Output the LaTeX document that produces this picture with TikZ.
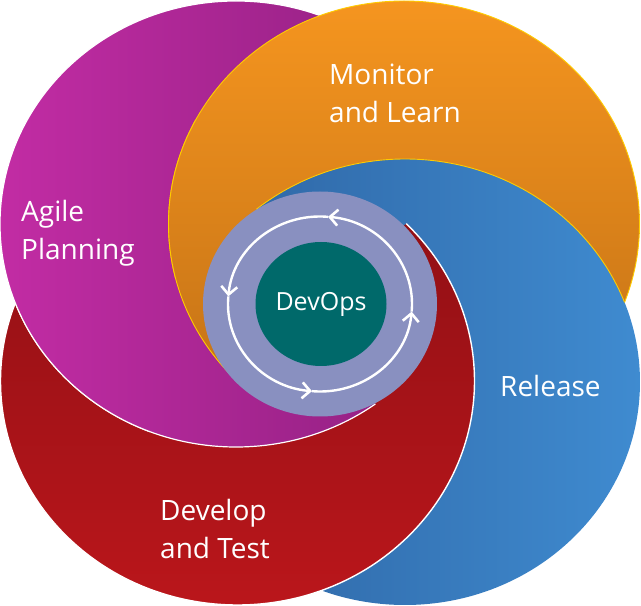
\documentclass[tikz,border=0pt]{standalone}
\usepackage{fontspec}
\setmainfont{Open Sans}
\usetikzlibrary{arrows.meta,shapes.geometric}
\definecolor{magL}{HTML}{C22CA4}
\definecolor{magD}{HTML}{8C1F7E}
\definecolor{orL}{HTML}{F5951F}
\definecolor{orD}{HTML}{BE6E15}
\definecolor{blL}{HTML}{3F8BD0}
\definecolor{blD}{HTML}{2D62A0}
\definecolor{rdL}{HTML}{BA161B}
\definecolor{rdD}{HTML}{8C0F14}
\definecolor{ringc}{HTML}{8990C0}
\definecolor{tealc}{HTML}{00696A}
\definecolor{goldc}{HTML}{FFCC00}
\tikzset{
  magsty/.style={left color=magL, right color=magD, draw=white, line width=1.2pt},
  orsty/.style={top color=orL, bottom color=orD, draw=goldc, line width=0.9pt},
  blsty/.style={left color=blD, right color=blL},
  rdsty/.style={top color=rdD, bottom color=rdL, draw=white, line width=1.4pt},
  lbl/.style={text=white, font=\fontsize{28}{34}\selectfont, inner sep=0pt},
  cyc/.style={white, line width=2.4pt, -{Straight Barb[length=8pt, width=16pt, line width=2.6pt]}}
}
\newcommand\petalR{\shadedraw[rdsty] (237.5,225) ellipse [x radius=237, y radius=224];}
\newcommand\petalM{\shadedraw[magsty] (236,382) ellipse [x radius=236, y radius=223];}
\newcommand\petalO{\shadedraw[orsty] (404,382) ellipse [x radius=235.5, y radius=223];}
\newcommand\petalB{\shade[blsty] (405,224) ellipse [x radius=235, y radius=223];}
\begin{document}
\begin{tikzpicture}[x=1pt,y=1pt]
\useasboundingbox (0,0) rectangle (641,606);
\coordinate (C) at (320,302);
% base stacking: red < magenta < orange < blue
\petalR
\petalM
\petalO
\petalB
\begin{scope}
  \clip (404,382) ellipse [x radius=235.5, y radius=223];
  \draw[goldc, line width=0.9pt] (405,224) ellipse [x radius=235, y radius=223];
\end{scope}
% red over blue and orange in the lower and right sectors
\begin{scope}
  \clip (C) -- +(217:1500) -- +(270:1500) -- +(330:1500) -- +(403:1500) -- cycle;
  \petalR
\end{scope}
% magenta over red, blue and orange in the lower-left sector
\begin{scope}
  \clip (C) -- +(170:1500) -- +(235:1500) -- +(299:1500) -- cycle;
  \petalM
\end{scope}
% orange over everything in the left sector
\begin{scope}
  \clip (C) -- +(124:1500) -- +(170:1500) -- +(217:1500) -- cycle;
  \petalO
\end{scope}
% hub
\fill[ringc] (C) ellipse [x radius=117, y radius=112.5];
\node[ellipse, fill=tealc, minimum width=131pt, minimum height=124pt, inner sep=0pt] (hub) at (321,302) {};
\draw[cyc] (C) ++(-5:92 and 87.5) arc [start angle=-5, end angle=85, x radius=92, y radius=87.5];
\draw[cyc] (C) ++(85:92 and 87.5) arc [start angle=85, end angle=175, x radius=92, y radius=87.5];
\draw[cyc] (C) ++(175:92 and 87.5) arc [start angle=175, end angle=265, x radius=92, y radius=87.5];
\draw[cyc] (C) ++(265:92 and 87.5) arc [start angle=265, end angle=355, x radius=92, y radius=87.5];
% labels
\node[lbl, font=\fontsize{25}{29}\selectfont] (dev) at (hub) {DevOps};
\node[lbl, anchor=base west] (mon1) at (329,521) {Monitor};
\node[lbl, anchor=base west] (mon2) at (329,483) {and Learn};
\node[lbl, anchor=base west] (agi1) at (21,384.5) {Agile};
\node[lbl, anchor=base west] (agi2) at (21,346.5) {Planning};
\node[lbl, anchor=base west] (rel) at (500,209) {Release};
\node[lbl, anchor=base west] (dvl1) at (160,85.5) {Develop};
\node[lbl, anchor=base west] (dvl2) at (160,47.5) {and Test};
\end{tikzpicture}
\end{document}
